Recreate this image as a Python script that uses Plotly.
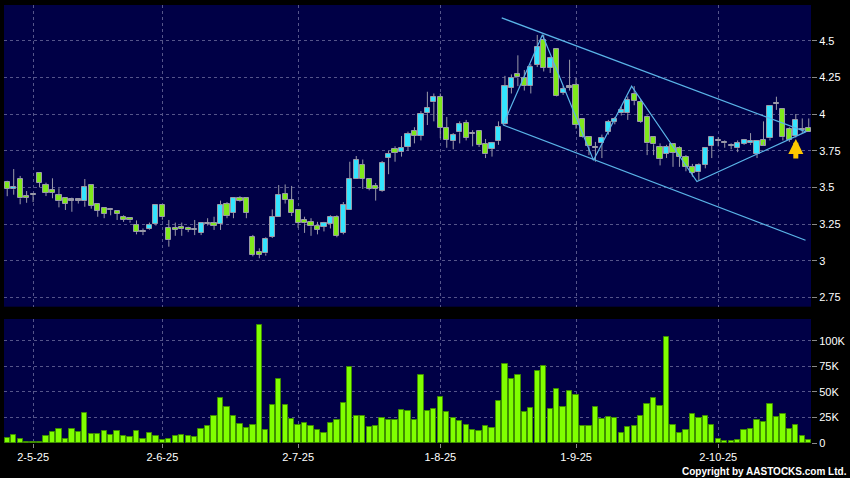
import pandas as pd
import plotly.graph_objects as go

# HK trading days shown on the chart (25 Apr 2025 - 23 Oct 2025)
hk_holidays = ["2025-05-01", "2025-05-05", "2025-07-01", "2025-10-01", "2025-10-07"]
trade_days = [d for d in pd.bdate_range("2025-04-25", "2025-10-23")
              if d.strftime("%Y-%m-%d") not in hk_holidays]

opens = [3.535, 3.487, 3.555, 3.44, 3.45, 3.60, 3.515, 3.485, 3.445, 3.43,
         3.41, 3.41, 3.405, 3.515, 3.385, 3.36, 3.345, 3.34, 3.30, 3.29,
         3.245, 3.195, 3.215, 3.25, 3.378, 3.225, 3.225, 3.23, 3.225, 3.21,
         3.19, 3.25, 3.255, 3.25, 3.385, 3.325, 3.43, 3.425, 3.165, 3.06,
         3.05, 3.165, 3.30, 3.455, 3.415, 3.345, 3.28, 3.265, 3.24, 3.232,
         3.25, 3.30, 3.19, 3.345, 3.555, 3.655, 3.56, 3.51, 3.475, 3.70,
         3.765, 3.74, 3.775, 3.885, 3.85, 4.005, 4.08, 4.115, 3.905, 3.815,
         3.875, 3.94, 3.865, 3.885, 3.795, 3.765, 3.815, 3.93, 4.18, 4.27,
         4.245, 4.19, 4.335, 4.505, 4.316, 4.44, 4.146, 4.18, 4.20, 3.965,
         3.845, 3.77, 3.80, 3.88, 3.948, 4.005, 4.005, 4.135, 4.08, 3.98,
         3.842, 3.773, 3.728, 3.794, 3.766, 3.709, 3.637, 3.603, 3.653, 3.782,
         3.813, 3.80, 3.782, 3.766, 3.796, 3.80, 3.728, 3.823, 3.835, 4.068,
         4.032, 3.898, 3.85, 3.893, 3.907]
highs = [3.545, 3.625, 3.578, 3.475, 3.46, 3.60, 3.532, 3.562, 3.494, 3.43,
         3.43, 3.425, 3.557, 3.52, 3.385, 3.36, 3.36, 3.34, 3.31, 3.29,
         3.275, 3.22, 3.26, 3.38, 3.38, 3.278, 3.26, 3.26, 3.232, 3.278,
         3.26, 3.29, 3.30, 3.41, 3.40, 3.43, 3.44, 3.43, 3.176, 3.085,
         3.16, 3.35, 3.516, 3.52, 3.51, 3.345, 3.30, 3.29, 3.265, 3.265,
         3.31, 3.31, 3.40, 3.675, 3.714, 3.69, 3.56, 3.53, 3.68, 3.75,
         3.78, 3.85, 3.88, 3.91, 4.02, 4.152, 4.14, 4.14, 3.98, 3.87,
         3.95, 3.96, 3.89, 3.89, 3.83, 3.81, 3.95, 4.26, 4.27, 4.40,
         4.30, 4.34, 4.539, 4.54, 4.39, 4.45, 4.19, 4.37, 4.244, 3.97,
         3.85, 3.81, 3.86, 3.96, 3.98, 4.05, 4.12, 4.19, 4.10, 3.99,
         3.85, 3.80, 3.79, 3.80, 3.78, 3.72, 3.66, 3.664, 3.766, 3.85,
         3.842, 3.82, 3.80, 3.82, 3.83, 3.87, 3.82, 3.95, 4.06, 4.118,
         4.04, 3.91, 4.0, 3.97, 3.97]
lows = [3.44, 3.45, 3.385, 3.395, 3.40, 3.50, 3.441, 3.426, 3.364, 3.346,
        3.334, 3.39, 3.368, 3.355, 3.30, 3.29, 3.31, 3.278, 3.265, 3.26,
        3.18, 3.175, 3.21, 3.24, 3.28, 3.096, 3.17, 3.17, 3.195, 3.175,
        3.175, 3.24, 3.21, 3.21, 3.29, 3.29, 3.40, 3.29, 3.03, 3.017,
        3.035, 3.155, 3.30, 3.39, 3.305, 3.225, 3.19, 3.17, 3.18, 3.20,
        3.22, 3.16, 3.18, 3.345, 3.555, 3.49, 3.48, 3.41, 3.47, 3.59,
        3.675, 3.71, 3.75, 3.80, 3.82, 3.925, 3.95, 3.835, 3.77, 3.76,
        3.80, 3.82, 3.78, 3.775, 3.70, 3.71, 3.79, 3.925, 4.14, 4.19,
        4.16, 4.14, 4.32, 4.29, 4.28, 4.12, 4.13, 4.16, 3.90, 3.84,
        3.72, 3.675, 3.70, 3.86, 3.93, 3.99, 3.96, 4.06, 3.94, 3.72,
        3.72, 3.65, 3.70, 3.64, 3.64, 3.61, 3.573, 3.55, 3.63, 3.70,
        3.78, 3.77, 3.76, 3.74, 3.79, 3.79, 3.70, 3.81, 3.82, 4.028,
        3.82, 3.81, 3.84, 3.87, 3.88]
closes = [3.49, 3.50, 3.425, 3.43, 3.45, 3.53, 3.465, 3.465, 3.405, 3.39,
          3.41, 3.41, 3.50, 3.375, 3.34, 3.32, 3.345, 3.32, 3.28, 3.275,
          3.195, 3.195, 3.245, 3.378, 3.295, 3.14, 3.21, 3.215, 3.21, 3.21,
          3.255, 3.25, 3.237, 3.378, 3.305, 3.425, 3.405, 3.325, 3.04, 3.04,
          3.15, 3.30, 3.45, 3.415, 3.325, 3.255, 3.255, 3.235, 3.21, 3.255,
          3.30, 3.17, 3.38, 3.56, 3.685, 3.56, 3.49, 3.49, 3.665, 3.73,
          3.735, 3.77, 3.865, 3.85, 4.0, 4.04, 4.115, 3.905, 3.825, 3.855,
          3.93, 3.84, 3.865, 3.79, 3.725, 3.80, 3.91, 4.19, 4.245, 4.25,
          4.19, 4.32, 4.46, 4.315, 4.38, 4.125, 4.169, 4.18, 3.925, 3.845,
          3.78, 3.77, 3.835, 3.945, 3.965, 4.03, 4.095, 4.09, 3.948, 3.80,
          3.794, 3.692, 3.777, 3.737, 3.709, 3.641, 3.60, 3.653, 3.766, 3.842,
          3.813, 3.80, 3.782, 3.80, 3.823, 3.818, 3.818, 3.782, 4.055, 4.068,
          3.842, 3.823, 3.959, 3.893, 3.88]
volumes = [4900, 8100, 3900, 700, 1300, 1300, 6500, 10700, 14000, 3900,
           14000, 10700, 29000, 8500, 8500, 12000, 7500, 11700, 7200, 5900,
           11700, 3900, 10000, 6500, 2900, 3600, 6500, 7800, 7200, 5900,
           13700, 16900, 26700, 43900, 35400, 26700, 18900, 15000, 17600, 115000,
           13000, 37000, 62700, 37000, 23700, 17900, 19500, 16600, 13000, 9400,
           19200, 22400, 38700, 74400, 26000, 26000, 15600, 16900, 24400, 22100,
           22800, 31900, 31200, 22800, 66300, 30900, 33500, 44500, 30200, 24400,
           21500, 17900, 13000, 11400, 16900, 14600, 41300, 77400, 63000, 66600,
           30600, 34500, 69900, 75400, 33500, 52300, 35400, 50400, 46800, 16300,
           16900, 35100, 23700, 25000, 24000, 9800, 15600, 16900, 26000, 38000,
           44200, 36000, 104000, 17900, 9800, 12400, 28000, 24000, 26000, 17200,
           4200, 2000, 2000, 3300, 12400, 13300, 22400, 20500, 38400, 25000,
           28600, 13300, 17900, 6500, 2600]

# hand-drawn study lines (bar position, price)
zigzag_x = [76.7, 82.8, 90.7, 96.6, 106.7, 123.6]
zigzag_y = [3.925, 4.54, 3.685, 4.19, 3.54, 3.88]
channel_top_x = [76.5, 123.5]
channel_top_y = [4.655, 3.88]
channel_bottom_x = [76.7, 123.5]
channel_bottom_y = [3.925, 3.14]
arrow_bar = 122
arrow_price = 3.83

price_ticks = [2.75, 3.0, 3.25, 3.5, 3.75, 4.0, 4.25, 4.5]
price_labels = ["2.75", "3", "3.25", "3.5", "3.75", "4", "4.25", "4.5"]
vol_ticks = [0, 25000, 50000, 75000, 100000]
vol_labels = ["0", "25K", "50K", "75K", "100K"]

UP = "#33e4ff"
DOWN = "#7fe81c"
FLAT = "#9a9aa8"
WICK = "#9a9aa8"
NAVY = "#000046"
GRID = "#55558a"
TRENDLINE = "#5ab4e8"

n = len(trade_days)
idx = list(range(n))

# month-start tick labels, e.g. 2-5-25
tick_pos = []
tick_text = []
for i, d in enumerate(trade_days):
    if i > 0 and d.month != trade_days[i - 1].month:
        tick_pos.append(i)
        tick_text.append(f"{d.day}-{d.month}-{d:%y}")

body_low = []
body_size = []
body_color = []
wick_x = []
wick_y = []
for i in idx:
    o, h, l, c = opens[i], highs[i], lows[i], closes[i]
    lo, hi = min(o, c), max(o, c)
    body_low.append(lo)
    body_size.append(max(hi - lo, 0.008))
    if c > o:
        body_color.append(UP)
    elif c < o:
        body_color.append(DOWN)
    else:
        body_color.append(FLAT)
    # upper and lower wicks, kept off the body
    wick_x += [i, i, None, i, i, None]
    wick_y += [hi, h, None, l, lo, None]

data = []

trace_wicks = go.Scatter(
    x=wick_x, y=wick_y, mode="lines",
    line=dict(color=WICK, width=1),
    hoverinfo="skip", xaxis="x", yaxis="y")
data.append(trace_wicks)

trace_bodies = go.Bar(
    x=idx, y=body_size, base=body_low, width=0.8,
    marker=dict(color=body_color, line=dict(color=WICK, width=1)),
    xaxis="x", yaxis="y")
data.append(trace_bodies)

for lx, ly in [(zigzag_x, zigzag_y), (channel_top_x, channel_top_y),
               (channel_bottom_x, channel_bottom_y)]:
    data.append(go.Scatter(
        x=lx, y=ly, mode="lines",
        line=dict(color=TRENDLINE, width=1.2),
        hoverinfo="skip", xaxis="x", yaxis="y"))

trace_volume = go.Bar(
    x=idx, y=volumes, width=0.82,
    marker=dict(color="#80ff00", line=dict(color="#3f8f00", width=1)),
    xaxis="x2", yaxis="y2")
data.append(trace_volume)

axis_font = dict(family="Liberation Sans, Arial, sans-serif", size=11, color="#ffffff")
x_range = [-0.5, 124.35]

layout = go.Layout(
    width=850, height=478,
    margin=dict(l=4, r=37, t=5, b=35),
    paper_bgcolor="#000000",
    plot_bgcolor=NAVY,
    showlegend=False,
    bargap=0,
    xaxis=dict(domain=[0, 1], anchor="y", range=x_range,
               tickvals=tick_pos, showticklabels=False, ticks="",
               showgrid=True, gridcolor=GRID, griddash="3px,3px", gridwidth=1,
               zeroline=False, showline=False),
    yaxis=dict(domain=[0.3112, 1], anchor="x", side="right",
               range=[2.687, 4.743], tickvals=price_ticks, ticktext=price_labels,
               ticks="outside", ticklen=5, tickcolor="#8a8a8a", tickfont=axis_font,
               showgrid=True, gridcolor=GRID, griddash="3px,3px", gridwidth=1,
               zeroline=False, showline=False),
    xaxis2=dict(domain=[0, 1], anchor="y2", range=x_range,
                tickvals=tick_pos, ticktext=tick_text,
                ticks="outside", ticklen=4, tickcolor="#8a8a8a", tickfont=axis_font,
                showgrid=True, gridcolor=GRID, griddash="3px,3px", gridwidth=1,
                zeroline=False, showline=False),
    yaxis2=dict(domain=[0, 0.2831], anchor="x2", side="right",
                range=[0, 121200], tickvals=vol_ticks, ticktext=vol_labels,
                ticks="outside", ticklen=5, tickcolor="#8a8a8a", tickfont=axis_font,
                showgrid=True, gridcolor=GRID, griddash="3px,3px", gridwidth=1,
                zeroline=False, showline=False),
    annotations=[
        dict(x=arrow_bar, y=arrow_price, xref="x", yref="y",
             ax=0, ay=21, showarrow=True, arrowhead=2, arrowsize=0.6,
             arrowwidth=5, arrowcolor="#ffc800", text=""),
        dict(x=1.047, y=-0.064, xref="paper", yref="paper",
             xanchor="right", yanchor="middle", showarrow=False,
             text="<b>Copyright by AASTOCKS.com Ltd.</b>",
             font=dict(family="Liberation Sans, Arial, sans-serif", size=10, color="#ffffff")),
    ],
)

fig = go.Figure(data=data, layout=layout)
# drop the page's default body margin so the chart sits at the window's corner
fig.write_html("out.html", config={"displayModeBar": False},
               post_script="document.body.style.margin = '0px';")
